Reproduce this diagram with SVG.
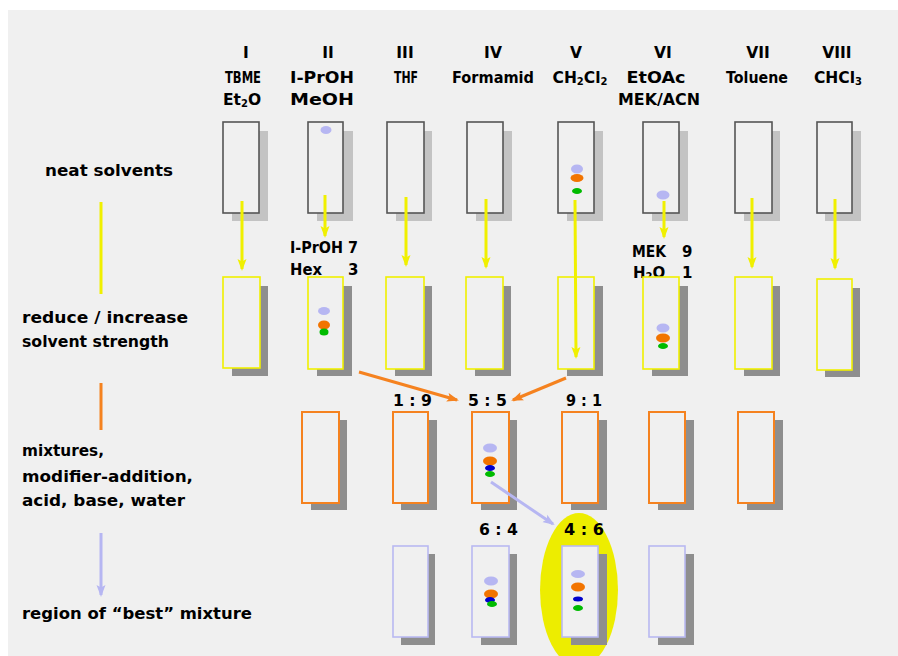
<svg xmlns="http://www.w3.org/2000/svg" width="898" height="656" viewBox="0 0 898 656">
<style>
text{font-family:"DejaVu Sans","Liberation Sans",sans-serif;font-weight:bold;fill:#000}
.lbl{font-size:16px}
.hd{font-size:15.5px;text-anchor:middle}
.mid{font-size:15px}
.rt{font-size:15px}
.sub{font-size:10px}
.sh1{fill:#c3c3c3}
.sh2{fill:#8e8e8e}
.pn{fill:#f0f0f0;stroke:#555;stroke-width:1.6}
.py{fill:#f0f0f0;stroke:#f0f000;stroke-width:1.6}
.po{fill:#f0f0f0;stroke:#f5821f;stroke-width:2}
.pl{fill:#f0f0f0;stroke:#b9b9f2;stroke-width:1.6}
.sl{fill:#b6b6f2}
.so{fill:#f27400}
.sb{fill:#0000cc}
.sg{fill:#00bb00}
.cy{stroke:#f0f000;stroke-width:3;fill:none}
.co{stroke:#f5821f;stroke-width:3;fill:none}
.cl{stroke:#b6b6f2;stroke-width:3;fill:none}
</style>
<defs>
<marker id="ay" markerUnits="userSpaceOnUse" markerWidth="12" markerHeight="10" refX="10" refY="5" orient="auto"><path d="M0,0.5 L12,5 L0,9.5 L2.5,5 z" fill="#f0f000"/></marker>
<marker id="ao" markerUnits="userSpaceOnUse" markerWidth="12" markerHeight="10" refX="10" refY="5" orient="auto"><path d="M0,0.5 L12,5 L0,9.5 L2.5,5 z" fill="#f5821f"/></marker>
<marker id="al" markerUnits="userSpaceOnUse" markerWidth="12" markerHeight="10" refX="10" refY="5" orient="auto"><path d="M0,0.5 L12,5 L0,9.5 L2.5,5 z" fill="#b6b6f2"/></marker>
</defs>
<rect x="0" y="0" width="898" height="656" fill="#ffffff"/>
<rect x="8" y="10" width="890" height="646" fill="#f0f0f0"/>

<g id="legend">
<text class="lbl" x="45" y="176" textLength="128" lengthAdjust="spacingAndGlyphs">neat solvents</text>
<text class="lbl" x="22" y="323" textLength="166" lengthAdjust="spacingAndGlyphs">reduce / increase</text>
<text class="lbl" x="22" y="347" textLength="147" lengthAdjust="spacingAndGlyphs">solvent strength</text>
<text class="lbl" x="22" y="456" textLength="82" lengthAdjust="spacingAndGlyphs">mixtures,</text>
<text class="lbl" x="22" y="482" textLength="171" lengthAdjust="spacingAndGlyphs">modifier-addition,</text>
<text class="lbl" x="22" y="506" textLength="163" lengthAdjust="spacingAndGlyphs">acid, base, water</text>
<text class="lbl" x="22" y="619" textLength="230" lengthAdjust="spacingAndGlyphs">region of “best” mixture</text>
</g>

<g id="headers">
<text class="hd" x="246" y="58">I</text>
<text class="hd" x="243" y="83" textLength="36" lengthAdjust="spacingAndGlyphs">TBME</text>
<text class="hd" x="242" y="105">Et<tspan class="sub" dy="2">2</tspan><tspan dy="-2">O</tspan></text>
<text class="hd" x="328" y="58">II</text>
<text class="hd" x="322" y="83" textLength="64" lengthAdjust="spacingAndGlyphs">I-PrOH</text>
<text class="hd" x="322" y="105" textLength="64" lengthAdjust="spacingAndGlyphs">MeOH</text>
<text class="hd" x="405" y="58">III</text>
<text class="hd" x="406" y="83" textLength="24" lengthAdjust="spacingAndGlyphs">THF</text>
<text class="hd" x="493" y="58">IV</text>
<text class="hd" x="493" y="83" textLength="82" lengthAdjust="spacingAndGlyphs">Formamid</text>
<text class="hd" x="576" y="58">V</text>
<text class="hd" x="580" y="83">CH<tspan class="sub" dy="2">2</tspan><tspan dy="-2">Cl</tspan><tspan class="sub" dy="2">2</tspan></text>
<text class="hd" x="663" y="58">VI</text>
<text class="hd" x="656" y="83" textLength="59" lengthAdjust="spacingAndGlyphs">EtOAc</text>
<text class="hd" x="659" y="105" textLength="82" lengthAdjust="spacingAndGlyphs">MEK/ACN</text>
<text class="hd" x="758" y="58">VII</text>
<text class="hd" x="757" y="83" textLength="62" lengthAdjust="spacingAndGlyphs">Toluene</text>
<text class="hd" x="837" y="58">VIII</text>
<text class="hd" x="838" y="83">CHCl<tspan class="sub" dy="2">3</tspan></text>
</g>

<g id="ellipse-best">
<ellipse cx="579" cy="590" rx="39" ry="77" fill="#eded00"/>
</g>

<g id="neat-row">
<g id="neat-I"><rect class="sh1" x="232" y="131" width="36" height="90"/><rect class="pn" x="223" y="122" width="36" height="91"/></g>
<g id="neat-II"><rect class="sh1" x="317" y="131" width="36" height="90"/><rect class="pn" x="308" y="122" width="35" height="91"/><ellipse class="sl" cx="326" cy="130" rx="5.5" ry="4"/></g>
<g id="neat-III"><rect class="sh1" x="396" y="131" width="36" height="90"/><rect class="pn" x="387" y="122" width="37" height="91"/></g>
<g id="neat-IV"><rect class="sh1" x="476" y="131" width="36" height="90"/><rect class="pn" x="467" y="122" width="36" height="91"/></g>
<g id="neat-V"><rect class="sh1" x="567" y="131" width="36" height="90"/><rect class="pn" x="558" y="122" width="36" height="91"/><ellipse class="sl" cx="577" cy="169" rx="6" ry="4.5"/><ellipse class="so" cx="577" cy="178" rx="6.5" ry="4"/><ellipse class="sg" cx="577" cy="191" rx="5" ry="3"/></g>
<g id="neat-VI"><rect class="sh1" x="652" y="131" width="36" height="90"/><rect class="pn" x="643" y="122" width="36" height="91"/><ellipse class="sl" cx="663" cy="195" rx="6.5" ry="4.5"/></g>
<g id="neat-VII"><rect class="sh1" x="744" y="131" width="36" height="90"/><rect class="pn" x="735" y="122" width="37" height="91"/></g>
<g id="neat-VIII"><rect class="sh1" x="825" y="131" width="36" height="90"/><rect class="pn" x="817" y="122" width="35" height="91"/></g>
</g>

<g id="mid-labels">
<text class="mid" x="290" y="253" textLength="68" lengthAdjust="spacingAndGlyphs">I-PrOH 7</text>
<text class="mid" x="290" y="275" textLength="32" lengthAdjust="spacingAndGlyphs">Hex</text>
<text class="mid" x="348" y="275">3</text>
<text class="mid" x="632" y="257" textLength="34" lengthAdjust="spacingAndGlyphs">MEK</text>
<text class="mid" x="682" y="257">9</text>
<text class="mid" x="633" y="278">H<tspan class="sub" dy="2">2</tspan><tspan dy="-2">O</tspan></text>
<text class="mid" x="682" y="278">1</text>
</g>

<g id="yellow-row">
<g id="red-I"><rect class="sh2" x="232" y="286" width="36" height="90"/><rect class="py" x="223" y="277" width="37" height="91"/></g>
<g id="red-II"><rect class="sh2" x="317" y="286" width="35" height="90"/><rect class="py" x="308" y="277" width="35" height="92"/><ellipse class="sl" cx="324" cy="311" rx="6" ry="4"/><ellipse class="so" cx="324" cy="325" rx="6" ry="4.5"/><ellipse class="sg" cx="324" cy="332" rx="4.5" ry="3.5"/></g>
<g id="red-III"><rect class="sh2" x="395" y="286" width="37" height="90"/><rect class="py" x="386" y="277" width="38" height="92"/></g>
<g id="red-IV"><rect class="sh2" x="475" y="286" width="36" height="90"/><rect class="py" x="466" y="277" width="37" height="92"/></g>
<g id="red-V"><rect class="sh2" x="567" y="286" width="36" height="90"/><rect class="py" x="558" y="277" width="36" height="92"/></g>
<g id="red-VI"><rect class="sh2" x="652" y="286" width="36" height="90"/><rect class="py" x="643" y="277" width="36" height="92"/><ellipse class="sl" cx="663" cy="328" rx="6.5" ry="4.5"/><ellipse class="so" cx="663" cy="338" rx="7" ry="4.5"/><ellipse class="sg" cx="663" cy="346" rx="5" ry="3"/></g>
<g id="red-VII"><rect class="sh2" x="744" y="286" width="36" height="90"/><rect class="py" x="735" y="277" width="37" height="92"/></g>
<g id="red-VIII"><rect class="sh2" x="825" y="288" width="35" height="89"/><rect class="py" x="817" y="279" width="35" height="91"/></g>
</g>

<g id="ratio-labels">
<text class="rt" x="393" y="406" textLength="39" lengthAdjust="spacingAndGlyphs">1 : 9</text>
<text class="rt" x="468" y="406" textLength="39" lengthAdjust="spacingAndGlyphs">5 : 5</text>
<text class="rt" x="566" y="406" textLength="36" lengthAdjust="spacingAndGlyphs">9 : 1</text>
<text class="rt" x="479" y="535" textLength="39" lengthAdjust="spacingAndGlyphs">6 : 4</text>
<text class="rt" x="564" y="535" textLength="40" lengthAdjust="spacingAndGlyphs">4 : 6</text>
</g>

<g id="orange-row">
<g id="mix-II"><rect class="sh2" x="311" y="420" width="36" height="90"/><rect class="po" x="302" y="412" width="37" height="91"/></g>
<g id="mix-III"><rect class="sh2" x="401" y="420" width="36" height="90"/><rect class="po" x="393" y="412" width="35" height="91"/></g>
<g id="mix-IV"><rect class="sh2" x="481" y="420" width="36" height="90"/><rect class="po" x="472" y="412" width="37" height="91"/><ellipse class="sl" cx="490" cy="448" rx="7" ry="4.5"/><ellipse class="so" cx="490" cy="461" rx="7" ry="4.5"/><ellipse class="sb" cx="490" cy="468" rx="5" ry="3"/><ellipse class="sg" cx="490" cy="474" rx="5" ry="3"/></g>
<g id="mix-V"><rect class="sh2" x="571" y="420" width="36" height="90"/><rect class="po" x="562" y="412" width="36" height="91"/></g>
<g id="mix-VI"><rect class="sh2" x="658" y="420" width="36" height="90"/><rect class="po" x="649" y="412" width="36" height="91"/></g>
<g id="mix-VII"><rect class="sh2" x="747" y="420" width="36" height="90"/><rect class="po" x="738" y="412" width="36" height="91"/></g>
</g>

<g id="lavender-row">
<g id="best-III"><rect class="sh2" x="401" y="554" width="34" height="91"/><rect class="pl" x="393" y="546" width="35" height="91"/></g>
<g id="best-IV"><rect class="sh2" x="481" y="554" width="36" height="91"/><rect class="pl" x="472" y="546" width="37" height="91"/><ellipse class="sl" cx="491" cy="581" rx="7" ry="4.5"/><ellipse class="so" cx="491" cy="594" rx="7" ry="4.5"/><ellipse class="sb" cx="490" cy="600" rx="5" ry="3"/><ellipse class="sg" cx="492" cy="604" rx="5" ry="3"/></g>
<g id="best-V"><rect class="sh2" x="571" y="554" width="36" height="91"/><rect class="pl" x="562" y="546" width="36" height="91"/><ellipse class="sl" cx="578" cy="574" rx="7" ry="4"/><ellipse class="so" cx="578" cy="587" rx="7" ry="4.5"/><ellipse class="sb" cx="578" cy="599" rx="5" ry="2.5"/><ellipse class="sg" cx="578" cy="608" rx="5" ry="3"/></g>
<g id="best-VI"><rect class="sh2" x="658" y="554" width="36" height="91"/><rect class="pl" x="649" y="546" width="36" height="91"/></g>
</g>

<g id="connectors">
<line class="cy" x1="101" y1="202" x2="101" y2="294"/>
<line class="co" x1="101" y1="383" x2="101" y2="430"/>
<line class="cl" x1="101" y1="533" x2="101" y2="595" marker-end="url(#al)"/>
<line class="cy" x1="242" y1="201" x2="242" y2="269" marker-end="url(#ay)"/>
<line class="cy" x1="325" y1="195" x2="325" y2="236" marker-end="url(#ay)"/>
<line class="cy" x1="406" y1="197" x2="406" y2="265" marker-end="url(#ay)"/>
<line class="cy" x1="486" y1="199" x2="486" y2="267" marker-end="url(#ay)"/>
<line class="cy" x1="575" y1="200" x2="576" y2="357" marker-end="url(#ay)"/>
<line class="cy" x1="664" y1="201" x2="664" y2="237" marker-end="url(#ay)"/>
<line class="cy" x1="752" y1="198" x2="752" y2="267" marker-end="url(#ay)"/>
<line class="cy" x1="835" y1="199" x2="835" y2="268" marker-end="url(#ay)"/>
<line class="co" x1="359" y1="372" x2="457" y2="400" marker-end="url(#ao)"/>
<line class="co" x1="566" y1="378" x2="513" y2="400" marker-end="url(#ao)"/>
<line class="cl" x1="491" y1="482" x2="553" y2="524" marker-end="url(#al)"/>
</g>
</svg>
